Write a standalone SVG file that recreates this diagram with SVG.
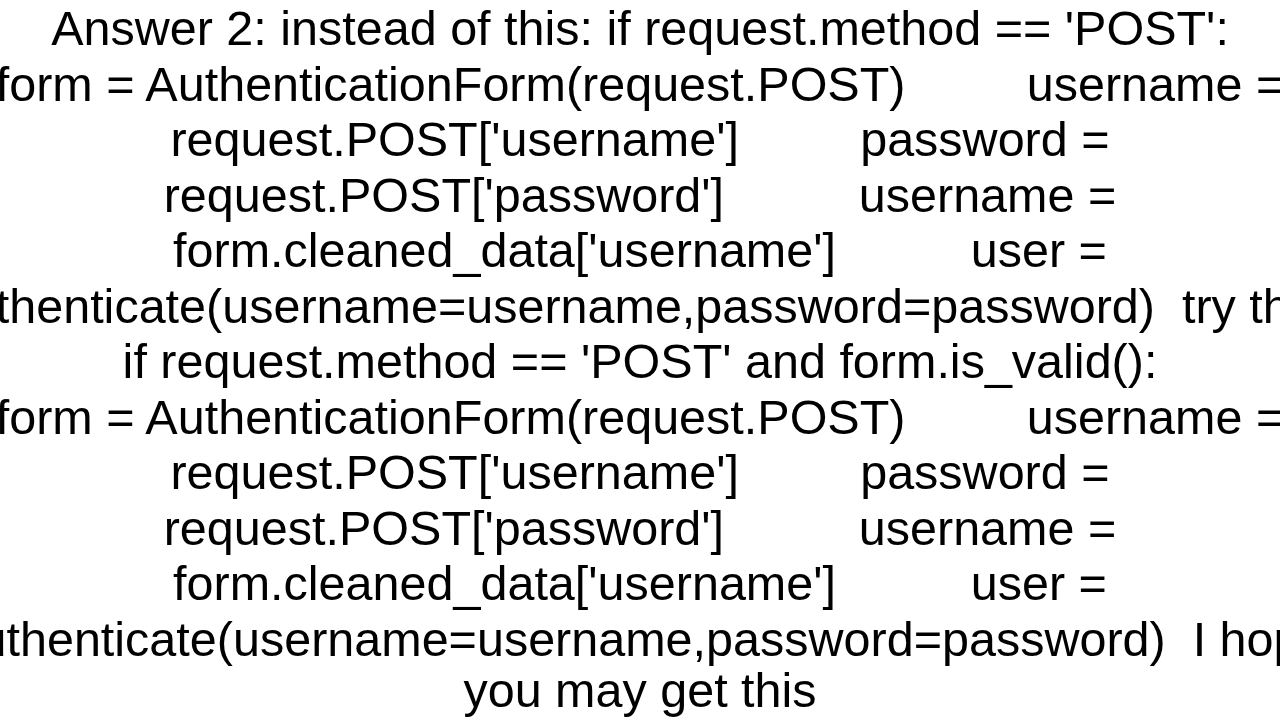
<svg xmlns="http://www.w3.org/2000/svg" width="1280" height="720" viewBox="0 0 1280 720">
<style>text{font-family:"Liberation Sans",Arial,sans-serif;font-size:48.5px;fill:#000;text-anchor:middle;white-space:pre}</style>
<rect width="1280" height="720" fill="#fff"/>
<g id="text" xml:space="preserve">
<text x="640" y="45">Answer 2: instead of this: if request.method == 'POST':</text>
<text x="640" y="101">form = AuthenticationForm(request.POST)         username =</text>
<text x="640" y="156">request.POST['username']         password =</text>
<text x="640" y="212">request.POST['password']          username =</text>
<text x="640" y="267">form.cleaned_data['username']          user =</text>
<text x="640" y="323">authenticate(username=username,password=password)  try this:</text>
<text x="640" y="378">if request.method == 'POST' and form.is_valid():</text>
<text x="640" y="434">form = AuthenticationForm(request.POST)         username =</text>
<text x="640" y="489">request.POST['username']         password =</text>
<text x="640" y="545">request.POST['password']          username =</text>
<text x="640" y="600">form.cleaned_data['username']          user =</text>
<text x="640" y="656">authenticate(username=username,password=password)  I hope</text>
<text x="640" y="707">you may get this</text>
</g>
</svg>
